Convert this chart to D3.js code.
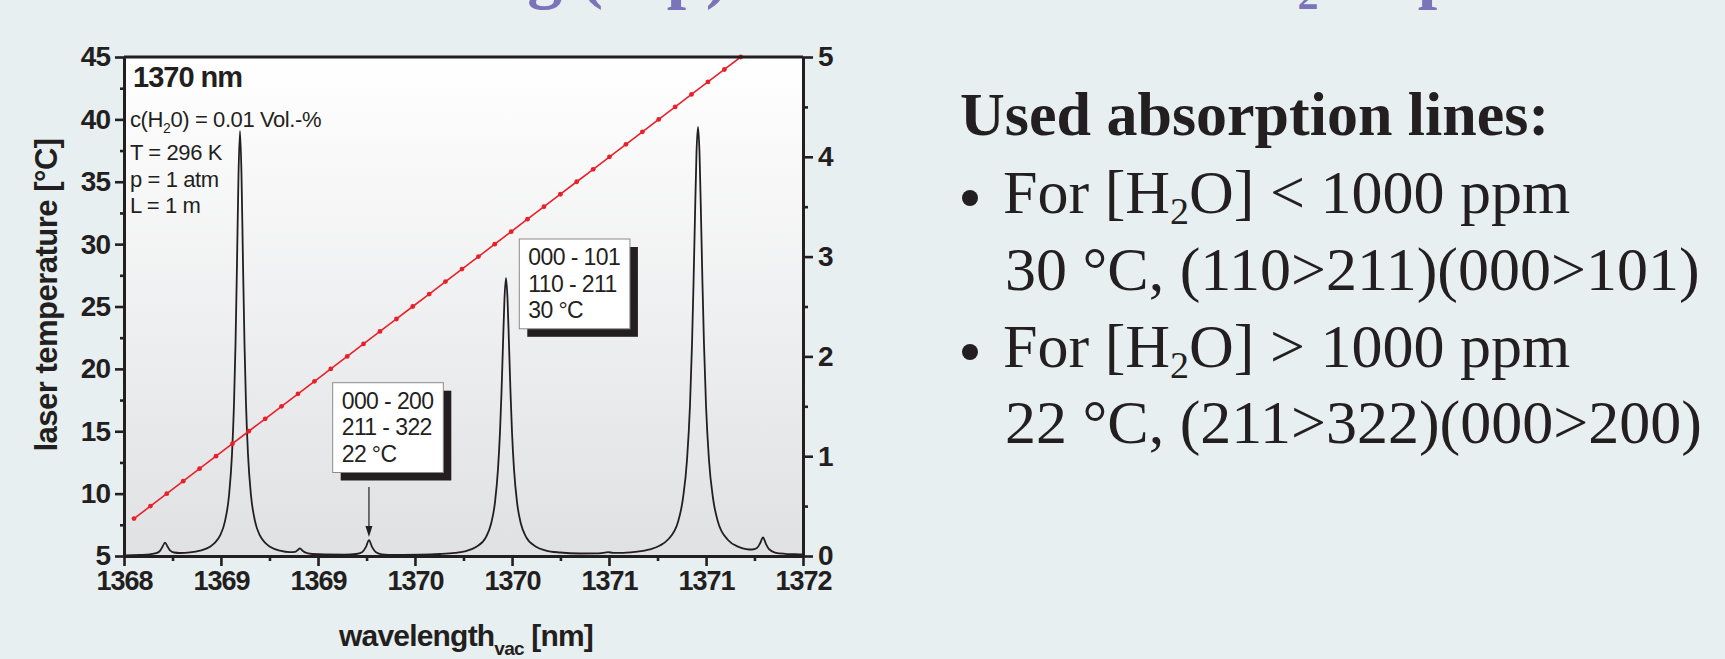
<!DOCTYPE html>
<html>
<head>
<meta charset="utf-8">
<script src="https://cdn.jsdelivr.net/npm/d3@7"></script>
<style>
  body { margin: 0; background: #e8eff0; }
  svg { display: block; }
</style>
</head>
<body>
<div id="chart"></div>
<script>
// laser temperature tuning (left axis)
const laserTemp = [8, 9, 10, 11, 12, 13, 14, 15, 16, 17, 18, 19, 20, 21, 22, 23, 24, 25, 26,
  27, 28, 29, 30, 31, 32, 33, 34, 35, 36, 37, 38, 39, 40, 41, 42, 43, 44, 45];
const laserWavelength = [1368.059, 1368.156, 1368.252, 1368.349, 1368.445, 1368.542, 1368.639,
  1368.735, 1368.832, 1368.928, 1369.025, 1369.122, 1369.218, 1369.315, 1369.411, 1369.508,
  1369.605, 1369.701, 1369.798, 1369.894, 1369.991, 1370.088, 1370.184, 1370.281, 1370.377,
  1370.474, 1370.571, 1370.667, 1370.764, 1370.860, 1370.957, 1371.054, 1371.150, 1371.247,
  1371.343, 1371.440, 1371.537, 1371.633];

// H2O absorption spectrum (right axis)
const specWavelength = [1368.0000, 1368.0943, 1368.1532, 1368.1885, 1368.2121, 1368.2268, 1368.2415,
  1368.2563, 1368.2710, 1368.2946, 1368.3299, 1368.3888, 1368.4477, 1368.5066, 1368.5361, 1368.5655,
  1368.5950, 1368.6186, 1368.6362, 1368.6480, 1368.6569, 1368.6657, 1368.6745, 1368.6834, 1368.6922,
  1368.7010, 1368.7099, 1368.7187, 1368.7305, 1368.7482, 1368.7717, 1368.8012, 1368.8306, 1368.8601,
  1368.9190, 1368.9779, 1369.0074, 1369.0221, 1369.0368, 1369.0515, 1369.0663, 1369.1075, 1369.1841,
  1369.3019, 1369.3667, 1369.4021, 1369.4256, 1369.4433, 1369.4610, 1369.4845, 1369.5199, 1369.5964,
  1369.7437, 1369.8616, 1369.9499, 1370.0147, 1370.0736, 1370.1325, 1370.1620, 1370.1856, 1370.2032,
  1370.2150, 1370.2239, 1370.2327, 1370.2415, 1370.2504, 1370.2592, 1370.2680, 1370.2769, 1370.2857,
  1370.2975, 1370.3152, 1370.3387, 1370.3682, 1370.4271, 1370.4860, 1370.5685, 1370.6863, 1370.7865,
  1370.8218, 1370.8513, 1370.8807, 1370.9219, 1371.0103, 1371.0987, 1371.1576, 1371.2047, 1371.2636,
  1371.2931, 1371.3166, 1371.3343, 1371.3461, 1371.3549, 1371.3638, 1371.3726, 1371.3814, 1371.3903,
  1371.3991, 1371.4079, 1371.4168, 1371.4286, 1371.4462, 1371.4698, 1371.4993, 1371.5582, 1371.6171,
  1371.6642, 1371.6996, 1371.7290, 1371.7467, 1371.7644, 1371.7820, 1371.7997, 1371.8350, 1371.8939,
  1371.9528, 1372.0000];
const specAbsorbance = [0.007, 0.011, 0.017, 0.028, 0.052, 0.093, 0.135,
  0.095, 0.056, 0.035, 0.030, 0.036, 0.054, 0.093, 0.133, 0.204,
  0.350, 0.606, 1.018, 1.526, 2.120, 2.934, 3.816, 4.260, 3.816,
  2.934, 2.120, 1.526, 1.018, 0.606, 0.350, 0.204, 0.133, 0.093,
  0.053, 0.038, 0.041, 0.057, 0.076, 0.054, 0.036, 0.020, 0.015,
  0.014, 0.020, 0.038, 0.091, 0.160, 0.091, 0.038, 0.017, 0.011,
  0.013, 0.020, 0.032, 0.050, 0.090, 0.190, 0.320, 0.539, 0.870,
  1.243, 1.640, 2.124, 2.580, 2.785, 2.580, 2.124, 1.640, 1.243,
  0.870, 0.539, 0.320, 0.192, 0.093, 0.055, 0.035, 0.025, 0.026,
  0.032, 0.038, 0.032, 0.031, 0.042, 0.067, 0.105, 0.165, 0.340,
  0.580, 0.960, 1.510, 2.120, 2.720, 3.410, 4.040, 4.300, 4.040,
  3.410, 2.720, 2.120, 1.510, 0.960, 0.580, 0.341, 0.160, 0.094,
  0.070, 0.065, 0.081, 0.125, 0.186, 0.120, 0.069, 0.035, 0.022,
  0.018, 0.015];

// axes
const xTickValues = [1368, 1368.571, 1369.143, 1369.714, 1370.286, 1370.857, 1371.429, 1372];
const xTickLabels = ["1368", "1369", "1369", "1370", "1370", "1371", "1371", "1372"];
const xMinorTicks = [1368.286, 1368.857, 1369.429, 1370, 1370.571, 1371.143, 1371.714];
const tempTicks = [5, 10, 15, 20, 25, 30, 35, 40, 45];
const tempMinorTicks = [7.5, 12.5, 17.5, 22.5, 27.5, 32.5, 37.5, 42.5];
const absTicks = [0, 1, 2, 3, 4, 5];
const absMinorTicks = [0.5, 1.5, 2.5, 3.5, 4.5];

// annotation text
const lineLabel22 = ["000 - 200", "211 - 322", "22 °C"];
const lineLabel30 = ["000 - 101", "110 - 211", "30 °C"];
const arrowTarget = [1369.443, 0.19];
const conditions = ["T = 296 K", "p = 1 atm", "L = 1 m"];

const W = 1725, H = 659;
const margin = { top: 57, right: 922, bottom: 103, left: 124 };
const width = W - margin.left - margin.right;
const height = H - margin.top - margin.bottom;
const ink = "#231f20";
const red = "#e8202a";
const sans = "'Liberation Sans', Arial, sans-serif";
const serif = "'Liberation Serif', 'Times New Roman', serif";

const svg = d3.select("#chart").append("svg")
  .attr("width", W)
  .attr("height", H);

// slide title, cut off by the top edge
svg.append("text")
  .attr("x", 729).attr("y", -5)
  .attr("text-anchor", "end")
  .style("font-family", serif).style("font-weight", "bold").style("font-size", "70px")
  .attr("fill", "#7b74b8")
  .text("Laser tuning (T-p)");
const title2 = svg.append("text")
  .attr("x", 1243).attr("y", -5)
  .style("font-family", serif).style("font-weight", "bold").style("font-size", "70px")
  .attr("fill", "#7b74b8");
title2.append("tspan").text("H");
title2.append("tspan").attr("dy", 14).style("font-size", "42px").text("2");
title2.append("tspan").attr("dy", -14).text("O spectrum");

const defs = svg.append("defs");
const grad = defs.append("linearGradient").attr("id", "plotbg")
  .attr("x1", 0).attr("y1", 0).attr("x2", 0).attr("y2", 1);
grad.append("stop").attr("offset", "0%").attr("stop-color", "#ffffff");
grad.append("stop").attr("offset", "100%").attr("stop-color", "#e0e1e3");

const g = svg.append("g")
  .attr("transform", `translate(${margin.left},${margin.top})`);

g.append("rect")
  .attr("width", width).attr("height", height)
  .attr("fill", "url(#plotbg)");

// Scales
const x = d3.scaleLinear().domain([1368, 1372]).range([0, width]);
const yT = d3.scaleLinear().domain([5, 45]).range([height, 0]);
const yA = d3.scaleLinear().domain([0, 5]).range([height, 0]);

// spectrum
const spec = specWavelength.map((w, i) => ({ w, a: specAbsorbance[i] }));
g.append("path")
  .datum(spec)
  .attr("fill", "none")
  .attr("stroke", ink)
  .attr("stroke-width", 1.8)
  .attr("d", d3.line().x(d => x(d.w)).y(d => yA(d.a)).curve(d3.curveMonotoneX));

// laser tuning line
const tune = laserWavelength.map((w, i) => ({ w, t: laserTemp[i] }));
g.append("path")
  .datum(tune)
  .attr("fill", "none")
  .attr("stroke", red)
  .attr("stroke-width", 1.6)
  .attr("d", d3.line().x(d => x(d.w)).y(d => yT(d.t)));
g.selectAll("circle.tune")
  .data(tune)
  .enter()
  .append("circle")
  .attr("class", "tune")
  .attr("cx", d => x(d.w))
  .attr("cy", d => yT(d.t))
  .attr("r", 2.4)
  .attr("fill", red);

// info text, upper left
g.append("text")
  .attr("x", 9).attr("y", 30)
  .style("font-family", sans).style("font-weight", "bold").style("font-size", "29px")
  .style("letter-spacing", "-1px")
  .attr("fill", ink)
  .text("1370 nm");
const conc = g.append("text")
  .attr("x", 6).attr("y", 70)
  .style("font-family", sans).style("font-size", "22px").style("letter-spacing", "-0.4px")
  .attr("fill", ink);
conc.append("tspan").text("c(H");
conc.append("tspan").attr("dy", 6).style("font-size", "14px").text("2");
conc.append("tspan").attr("dy", -6).text("0) = 0.01 Vol.-%");
g.selectAll("text.cond")
  .data(conditions)
  .enter()
  .append("text")
  .attr("class", "cond")
  .attr("x", 6)
  .attr("y", (d, i) => 103 + i * 26.7)
  .style("font-family", sans).style("font-size", "22px").style("letter-spacing", "-0.4px")
  .attr("fill", ink)
  .text(d => d);

// annotation boxes
function labelBox(x0, y0, lines) {
  const bw = 110.6, bh = 89.8;
  g.append("rect").attr("x", x0 + 8).attr("y", y0 + 8)
    .attr("width", bw).attr("height", bh).attr("fill", ink);
  g.append("rect").attr("x", x0).attr("y", y0)
    .attr("width", bw).attr("height", bh)
    .attr("fill", "#ffffff").attr("stroke", "#8a8a8a").attr("stroke-width", 1);
  lines.forEach((t, i) => {
    g.append("text")
      .attr("x", x0 + 9).attr("y", y0 + 26 + i * 26.7)
      .style("font-family", sans).style("font-size", "23px").style("letter-spacing", "-0.6px")
      .attr("fill", ink)
      .text(t);
  });
}
labelBox(208.7, 325.7, lineLabel22);
labelBox(395.3, 182, lineLabel30);

// arrow to the 22 °C line
const ax = x(arrowTarget[0]), ay = yA(arrowTarget[1]);
g.append("line")
  .attr("x1", ax).attr("x2", ax)
  .attr("y1", 430).attr("y2", ay - 8)
  .attr("stroke", ink).attr("stroke-width", 1.2);
g.append("path")
  .attr("d", `M${ax},${ay} L${ax - 3.5},${ay - 11} L${ax + 3.5},${ay - 11} Z`)
  .attr("fill", ink);

// Axes
function styleAxis(sel, fontSize) {
  sel.select(".domain").attr("stroke", ink).attr("stroke-width", 3);
  sel.selectAll(".tick line").attr("stroke", ink).attr("stroke-width", 2.6);
  sel.selectAll(".tick text")
    .attr("fill", ink)
    .style("font-family", sans).style("font-weight", "bold")
    .style("font-size", fontSize).style("letter-spacing", "-1px");
}

const gLeft = g.append("g")
  .call(d3.axisLeft(yT).tickValues(tempTicks).tickSize(9).tickPadding(5).tickSizeOuter(0));
styleAxis(gLeft, "28px");
const gLeftMinor = g.append("g")
  .call(d3.axisLeft(yT).tickValues(tempMinorTicks).tickSize(4).tickFormat(""));
gLeftMinor.select(".domain").remove();
styleAxis(gLeftMinor, "28px");

const gRight = g.append("g")
  .attr("transform", `translate(${width},0)`)
  .call(d3.axisRight(yA).tickValues(absTicks).tickFormat(d3.format("d"))
    .tickSize(10).tickPadding(5).tickSizeOuter(0));
styleAxis(gRight, "28px");
const gRightMinor = g.append("g")
  .attr("transform", `translate(${width},0)`)
  .call(d3.axisRight(yA).tickValues(absMinorTicks).tickSize(5).tickFormat(""));
gRightMinor.select(".domain").remove();
styleAxis(gRightMinor, "28px");

const gBottom = g.append("g")
  .attr("transform", `translate(0,${height})`)
  .call(d3.axisBottom(x).tickValues(xTickValues).tickFormat((d, i) => xTickLabels[i])
    .tickSize(10).tickPadding(5).tickSizeOuter(0));
styleAxis(gBottom, "27px");
const gBottomMinor = g.append("g")
  .attr("transform", `translate(0,${height})`)
  .call(d3.axisBottom(x).tickValues(xMinorTicks).tickSize(5).tickFormat(""));
gBottomMinor.select(".domain").remove();
styleAxis(gBottomMinor, "27px");

// top frame line
g.append("line")
  .attr("x1", 0).attr("x2", width).attr("y1", 0).attr("y2", 0)
  .attr("stroke", ink).attr("stroke-width", 3);

// axis titles
svg.append("text")
  .attr("transform", "translate(57,295) rotate(-90)")
  .attr("text-anchor", "middle")
  .style("font-family", sans).style("font-weight", "bold").style("font-size", "31px")
  .style("letter-spacing", "-0.5px")
  .attr("fill", ink)
  .text("laser temperature [°C]");
const xTitle = svg.append("text")
  .attr("x", 466).attr("y", 646)
  .attr("text-anchor", "middle")
  .style("font-family", sans).style("font-weight", "bold").style("font-size", "30px")
  .style("letter-spacing", "-0.8px")
  .attr("fill", ink);
xTitle.append("tspan").text("wavelength");
xTitle.append("tspan").attr("dy", 9).style("font-size", "19px").text("vac");
xTitle.append("tspan").attr("dy", -9).text(" [nm]");

// right text block
svg.append("text")
  .attr("x", 960).attr("y", 135)
  .style("font-family", serif).style("font-weight", "bold").style("font-size", "62px")
  .attr("fill", ink)
  .text("Used absorption lines:");

function bulletLine(y, rel) {
  svg.append("circle")
    .attr("cx", 970).attr("cy", y - 15).attr("r", 8)
    .attr("fill", ink);
  const t = svg.append("text")
    .attr("x", 1003).attr("y", y)
    .style("font-family", serif).style("font-size", "62px")
    .attr("fill", ink);
  t.append("tspan").text("For [H");
  t.append("tspan").attr("dy", 11).style("font-size", "38px").text("2");
  t.append("tspan").attr("dy", -11).text(`O] ${rel} 1000 ppm`);
}
bulletLine(213, "<");
svg.append("text")
  .attr("x", 1005).attr("y", 290)
  .style("font-family", serif).style("font-size", "62px")
  .attr("fill", ink)
  .text("30 °C, (110>211)(000>101)");
bulletLine(367, ">");
svg.append("text")
  .attr("x", 1005).attr("y", 443)
  .style("font-family", serif).style("font-size", "62px")
  .attr("fill", ink)
  .text("22 °C, (211>322)(000>200)");
</script>
</body>
</html>
